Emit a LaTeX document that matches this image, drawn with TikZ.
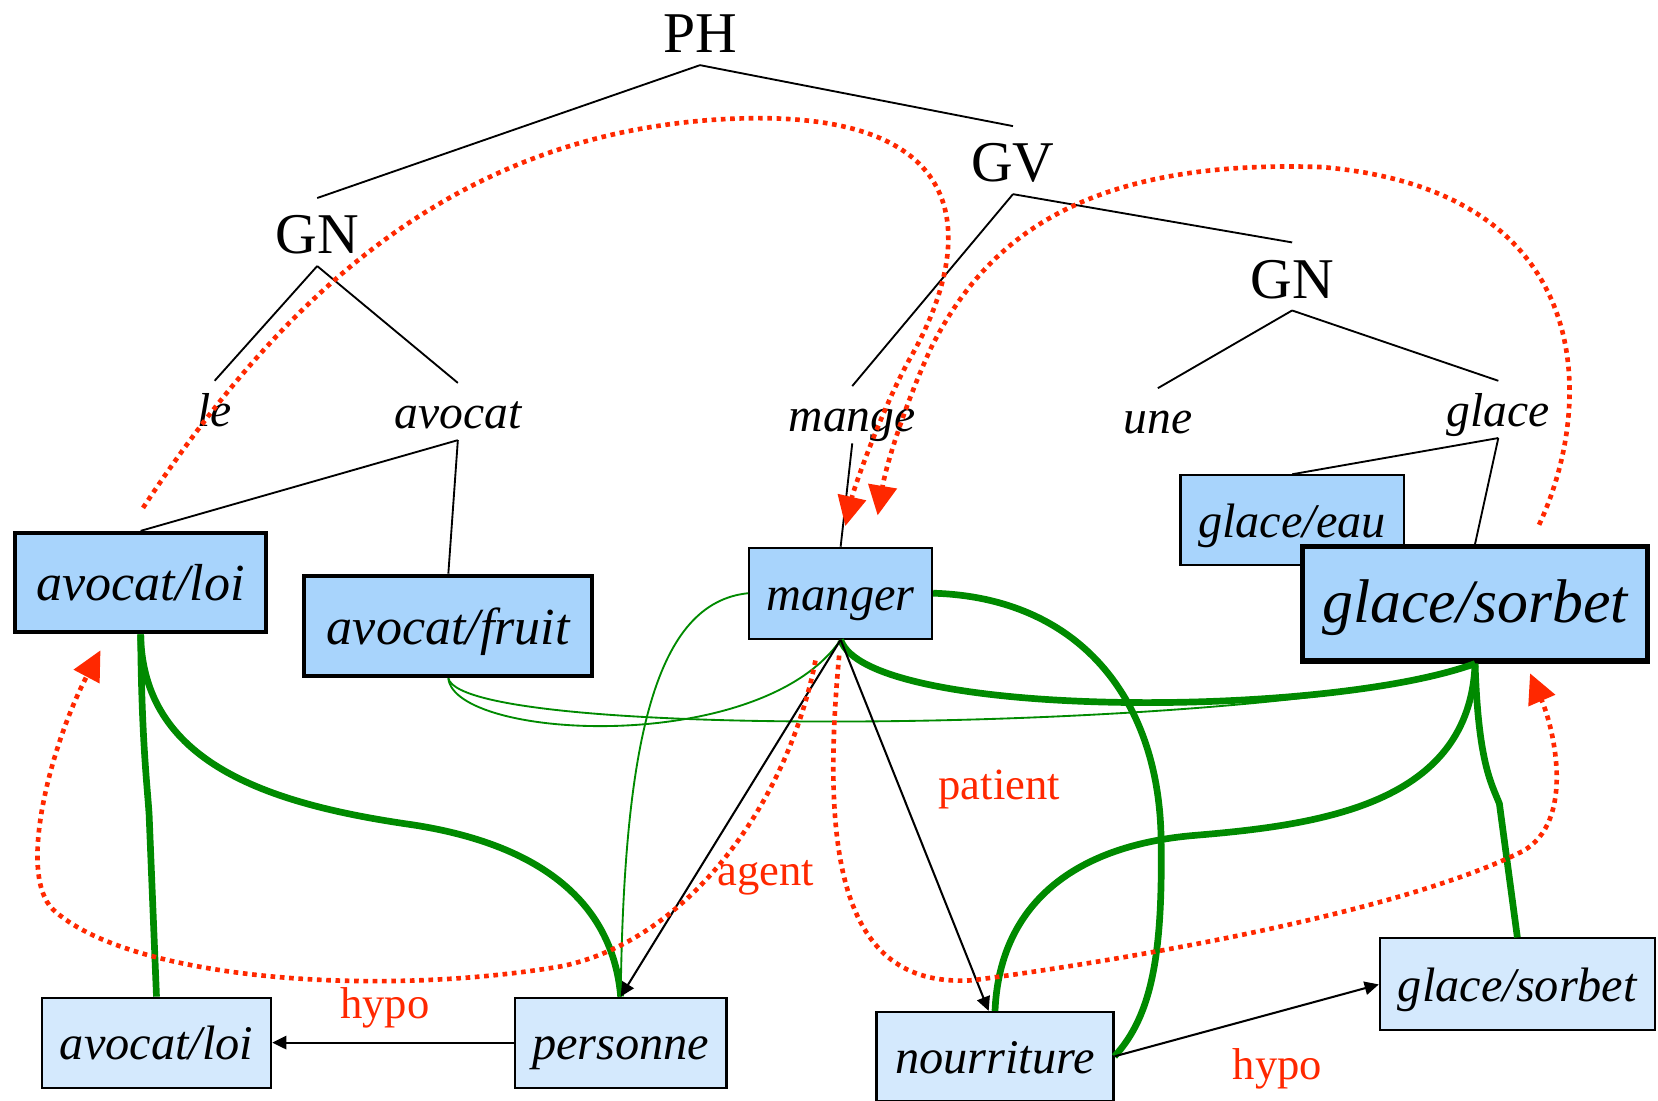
\documentclass[tikz,border=0pt]{standalone}
\usepackage{fontspec}
\setmainfont{Liberation Serif}
\usetikzlibrary{arrows.meta}
\definecolor{boxblue}{RGB}{168,212,252}
\definecolor{boxpale}{RGB}{212,233,253}
\definecolor{semred}{RGB}{255,40,0}
\definecolor{linkgreen}{RGB}{0,138,0}

\begin{document}
\begin{tikzpicture}[x=0.01cm, y=-0.01cm,
    cat/.style={inner sep=0pt, anchor=base, text height=14.8pt, text depth=3.1pt,
      font=\fontsize{15.5}{18}\selectfont},
    word/.style={inner sep=0pt, anchor=base, text height=12pt, text depth=3pt,
      font=\fontsize{12.8}{15}\selectfont\itshape},
    sense/.style={draw, fill=boxblue, line width=0.55pt, inner sep=0pt,
      text height=11.7pt, text depth=2.6pt, font=\fontsize{13}{15}\selectfont\itshape},
    concept/.style={draw, fill=boxpale, line width=0.55pt, inner sep=0pt,
      text height=11.7pt, text depth=2.6pt, font=\fontsize{13}{15}\selectfont\itshape},
    branch/.style={line width=0.5pt},
    rel/.style={line width=0.55pt, -{Triangle[length=3.8pt, width=3.6pt]}},
    link/.style={linkgreen, line width=1.8pt},
    thinlink/.style={linkgreen, line width=0.5pt},
    role/.style={semred, line width=1.25pt, dash pattern=on 1.25pt off 1.25pt,
      -{Triangle[length=8pt, width=7.6pt]}},
    rolelabel/.style={semred, font=\fontsize{12}{14}\selectfont}
  ]
  \useasboundingbox (0,0) rectangle (1568,1041);

  % Tree
  \node[cat] (ph) at (662,50) {PH};
  \node[cat] (gn1) at (300,240) {GN};
  \node[cat] (gv) at (958,172) {GV};
  \node[cat] (gn2) at (1222,282) {GN};
  \node[word] (le) at (203,403) {le};
  \node[word] (avocat) at (433,405) {avocat};
  \node[word] (mange) at (806,408) {mange};
  \node[word] (une) at (1095,410) {une};
  \node[word] (glace) at (1417,403) {glace};

  % Senses
  \node[sense, line width=1.1pt, minimum width=2.37cm, minimum height=0.94cm,
    text height=12.6pt, text depth=2.8pt,
    font=\fontsize{14}{16}\selectfont\itshape] (loi1) at (133,551) {avocat/loi};
  \node[sense, line width=1.1pt, minimum width=2.72cm, minimum height=0.95cm,
    text height=12.6pt, text depth=2.8pt,
    font=\fontsize{14}{16}\selectfont\itshape] (fruit) at (424,592) {avocat/fruit};
  \node[sense, minimum width=1.73cm, minimum height=0.86cm] (manger) at (795,561) {manger};
  \node[sense, minimum width=2.11cm, minimum height=0.85cm] (gleau) at (1222,492) {glace/eau};
  \node[sense, line width=1.45pt, minimum width=3.26cm, minimum height=1.08cm,
    text height=14.1pt, text depth=3.8pt,
    font=\fontsize{16.6}{19}\selectfont\itshape] (sorbet1) at (1395,571) {glace/sorbet};

  % Concepts
  \node[concept, minimum width=2.17cm, minimum height=0.85cm] (loi2) at (148,986) {avocat/loi};
  \node[concept, minimum width=2.0cm, minimum height=0.85cm] (personne) at (587,986) {personne};
  \node[concept, minimum width=2.24cm, minimum height=0.84cm] (nour) at (941,999) {nourriture};
  \node[concept, minimum width=2.6cm, minimum height=0.87cm] (sorbet2) at (1435,931) {glace/sorbet};

  \draw[branch] (ph.south) -- (gn1.north);
  \draw[branch] (ph.south) -- (gv.north);
  \draw[branch] (gn1.south) -- (le.north);
  \draw[branch] (gn1.south) -- (avocat.north);
  \draw[branch] (gv.south) -- (mange.north);
  \draw[branch] (gv.south) -- (gn2.north);
  \draw[branch] (gn2.south) -- (une.north);
  \draw[branch] (gn2.south) -- (glace.north);
  \draw[branch] (avocat.south) -- (loi1.north);
  \draw[branch] (avocat.south) -- (fruit.north);
  \draw[branch] (mange.south) -- (manger.north);
  \draw[branch] (glace.south) -- (gleau.north);
  \draw[branch] (glace.south) -- (sorbet1.north);

  % Green links
  \draw[thinlink] (fruit.south) .. controls (430,700) and (720,715) .. (manger.south);
  \draw[thinlink] (fruit.south) .. controls (440,705) and (1250,690) .. (sorbet1.south);
  \draw[thinlink] (manger.west) .. controls (620,570) and (590,700) .. (personne.north);
  \draw[link] (loi1.south) .. controls (134,700) and (139,740) .. (141,770) -- (loi2.north);
  \draw[link] (loi1.south) .. controls (135,720) and (250,760) .. (390,780)
    .. controls (520,800) and (580,860) .. (personne.north);
  \draw[link] (manger.east) .. controls (1020,565) and (1095,660) .. (1098,790)
    .. controls (1100,900) and (1090,960) .. (nour.east);
  \draw[link] (manger.south) .. controls (820,680) and (1250,680) .. (sorbet1.south);
  \draw[link] (sorbet1.south) .. controls (1390,760) and (1250,780) .. (1130,790)
    .. controls (1010,800) and (945,860) .. (nour.north);
  \draw[link] (sorbet1.south) .. controls (1398,720) and (1410,740) .. (1418,760) -- (sorbet2.north);

  % Relations
  \draw[rel] (manger.south) -- (personne.north);
  \draw[rel] (manger.south) -- ([xshift=-0.06cm]nour.north);
  \draw[rel] (personne.west) -- (loi2.east);
  \draw[rel] (nour.east) -- (sorbet2.west);

  % Red arcs
  \draw[role, shorten <=0.26cm, shorten >=0.2cm] ([xshift=-0.12cm]loi1.north)
    .. controls (280,260) and (450,120) .. (700,112)
    .. controls (935,105) and (918,240) .. (860,340)
    .. controls (835,385) and (808,460) .. (manger.north);
  \draw[role, shorten <=0.2cm, shorten >=0.3cm] ([xshift=0.52cm]sorbet1.north)
    .. controls (1510,380) and (1510,180) .. (1250,158)
    .. controls (1020,150) and (930,230) .. (880,330)
    .. controls (855,385) and (838,440) .. ([xshift=0.3cm]manger.north);
  \draw[role, shorten <=0.2cm, shorten >=0.17cm] ([xshift=-0.2cm]manger.south)
    .. controls (745,760) and (650,890) .. (530,914)
    .. controls (350,944) and (120,925) .. (50,860)
    .. controls (15,825) and (50,700) .. ([xshift=-0.3cm]loi1.south);
  \draw[role, shorten <=0.15cm, shorten >=0.1cm] (manger.south)
    .. controls (775,820) and (800,935) .. (920,927)
    .. controls (1050,910) and (1320,865) .. (1440,805)
    .. controls (1490,777) and (1470,690) .. ([xshift=0.48cm]sorbet1.south);

  % Labels
  \node[rolelabel] (hypo1) at (364,953) {hypo};
  \node[rolelabel] (agent) at (724,830) {agent};
  \node[rolelabel] (patient) at (945,747) {patient};
  \node[rolelabel] (hypo2) at (1208,1011) {hypo};

\end{tikzpicture}
\end{document}
